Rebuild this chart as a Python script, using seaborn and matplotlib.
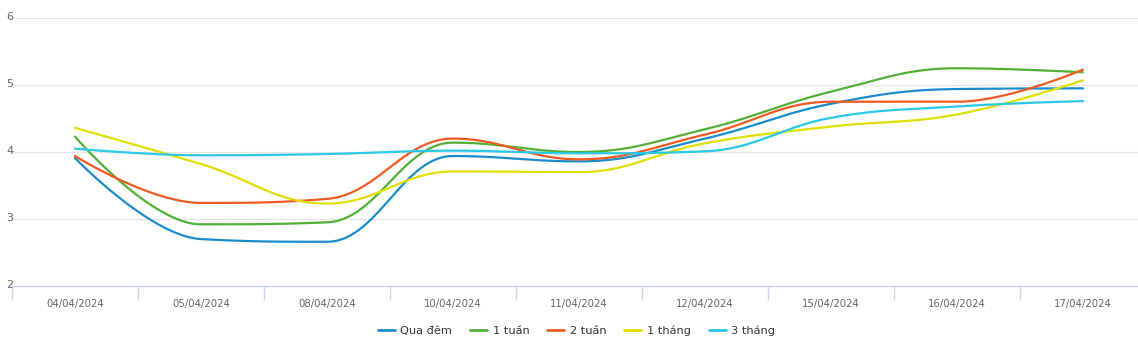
import numpy as np
import pandas as pd
import matplotlib
matplotlib.use("Agg")
import matplotlib.pyplot as plt
from matplotlib.transforms import ScaledTranslation
import seaborn as sns

# ---- data ----
dates = ["04/04/2024", "05/04/2024", "08/04/2024", "10/04/2024", "11/04/2024",
         "12/04/2024", "15/04/2024", "16/04/2024", "17/04/2024"]
qua_dem = [3.91, 2.70, 2.66, 3.94, 3.86, 4.20, 4.72, 4.94, 4.95]
tuan_1 = [4.23, 2.92, 2.95, 4.14, 4.00, 4.34, 4.90, 5.25, 5.19]
tuan_2 = [3.94, 3.24, 3.30, 4.20, 3.89, 4.26, 4.75, 4.75, 5.23]
thang_1 = [4.36, 3.82, 3.23, 3.71, 3.70, 4.13, 4.38, 4.56, 5.07]
thang_3 = [4.05, 3.95, 3.97, 4.02, 3.98, 4.01, 4.51, 4.68, 4.76]
series_names = ["Qua đêm", "1 tuần", "2 tuần", "1 tháng", "3 tháng"]
series_values = [qua_dem, tuan_1, tuan_2, thang_1, thang_3]
colors = ["#1a8ccb", "#51b035", "#f05a22", "#e0df00", "#29c9e5"]
y_ticks = [2, 3, 4, 5, 6]


def spline_path(ys, n=60):
    """Highcharts-style spline: cubic Bezier between points."""
    xs = np.arange(len(ys), dtype=float)
    ys = np.asarray(ys, dtype=float)
    sm = 1.5
    den = sm + 1
    m = len(ys)
    lc = [(xs[i], ys[i]) for i in range(m)]
    rc = [(xs[i], ys[i]) for i in range(m)]
    for i in range(1, m - 1):
        px, py = xs[i], ys[i]
        lx, ly = xs[i - 1], ys[i - 1]
        nx, ny = xs[i + 1], ys[i + 1]
        lcx = (sm * px + lx) / den
        lcy = (sm * py + ly) / den
        rcx = (sm * px + nx) / den
        rcy = (sm * py + ny) / den
        corr = (rcy - lcy) * (rcx - px) / (rcx - lcx) + py - rcy
        lcy += corr
        rcy += corr
        if lcy > ly and lcy > py:
            lcy = max(ly, py)
            rcy = 2 * py - lcy
        elif lcy < ly and lcy < py:
            lcy = min(ly, py)
            rcy = 2 * py - lcy
        if rcy > ny and rcy > py:
            rcy = max(ny, py)
            lcy = 2 * py - rcy
        elif rcy < ny and rcy < py:
            rcy = min(ny, py)
            lcy = 2 * py - rcy
        lc[i] = (lcx, lcy)
        rc[i] = (rcx, rcy)
    outx, outy = [xs[0]], [ys[0]]
    t = np.linspace(0, 1, n)[1:]
    for i in range(1, m):
        p0 = np.array([xs[i - 1], ys[i - 1]])
        p1 = np.array(rc[i - 1])
        p2 = np.array(lc[i])
        p3 = np.array([xs[i], ys[i]])
        b = ((1 - t) ** 3)[:, None] * p0 + (3 * (1 - t) ** 2 * t)[:, None] * p1 \
            + (3 * (1 - t) * t ** 2)[:, None] * p2 + (t ** 3)[:, None] * p3
        outx.extend(b[:, 0])
        outy.extend(b[:, 1])
    return np.array(outx), np.array(outy)


frames = []
for name, vals in zip(series_names, series_values):
    sx, sy = spline_path(vals)
    frames.append(pd.DataFrame({"x": sx, "y": sy, "series": name}))
df = pd.concat(frames, ignore_index=True)

sns.set_style("white")
plt.rcParams['font.family'] = ['DejaVu Sans']

W, H = 1138, 343
fig = plt.figure(figsize=(W / 100, H / 100), dpi=100)
left_px, right_px = 12, 1146
top_px, bot_px = 18, 286
ax = fig.add_axes([left_px / W, 1 - bot_px / H, (right_px - left_px) / W, (bot_px - top_px) / H])

sns.lineplot(data=df, x="x", y="y", hue="series", hue_order=series_names,
             palette=colors, sort=False, estimator=None, units="series",
             linewidth=1.6, ax=ax, legend=True)

ax.set_xlim(-0.5, len(dates) - 0.5)
ax.set_ylim(2, 6)

# y grid
for v in y_ticks[1:]:
    ax.axhline(v, color="#e6e6e6", linewidth=1, zorder=0)
ax.set_yticks(y_ticks)
ax.set_yticklabels([str(v) for v in y_ticks], color="#666666", fontsize=8)
ax.tick_params(axis="y", length=0, pad=-1)
for lab in ax.get_yticklabels():
    lab.set_horizontalalignment("right")
    lab.set_transform(lab.get_transform() + ScaledTranslation(0, 2.5 / 100, fig.dpi_scale_trans))

# x axis
ax.set_xticks(np.arange(len(dates)))
ax.set_xticklabels(dates, color="#666666", fontsize=7.3)
ax.set_xticks(np.arange(len(dates) + 1) - 0.5, minor=True)
ax.tick_params(axis="x", which="major", length=0, pad=9, bottom=False)
ax.tick_params(axis="x", which="minor", length=10, color="#ccd6eb", width=1,
               direction="out", bottom=True)

for s in ["top", "right", "left"]:
    ax.spines[s].set_visible(False)
ax.spines["bottom"].set_color("#ccd6eb")
ax.spines["bottom"].set_linewidth(1)
ax.set_xlabel("")
ax.set_ylabel("")

center_x = ((385 + 768) / 2 - left_px) / (right_px - left_px)
leg = ax.legend(loc="center", bbox_to_anchor=(center_x, (bot_px - 331) / (bot_px - top_px)),
                bbox_transform=ax.transAxes, ncol=5, frameon=False, fontsize=8.2,
                handlelength=1.5, handletextpad=0.5, columnspacing=1.55)
for t in leg.get_texts():
    t.set_color("#333333")
for h in leg.get_lines():
    h.set_linewidth(2)

fig.savefig("out.png", dpi=100)
